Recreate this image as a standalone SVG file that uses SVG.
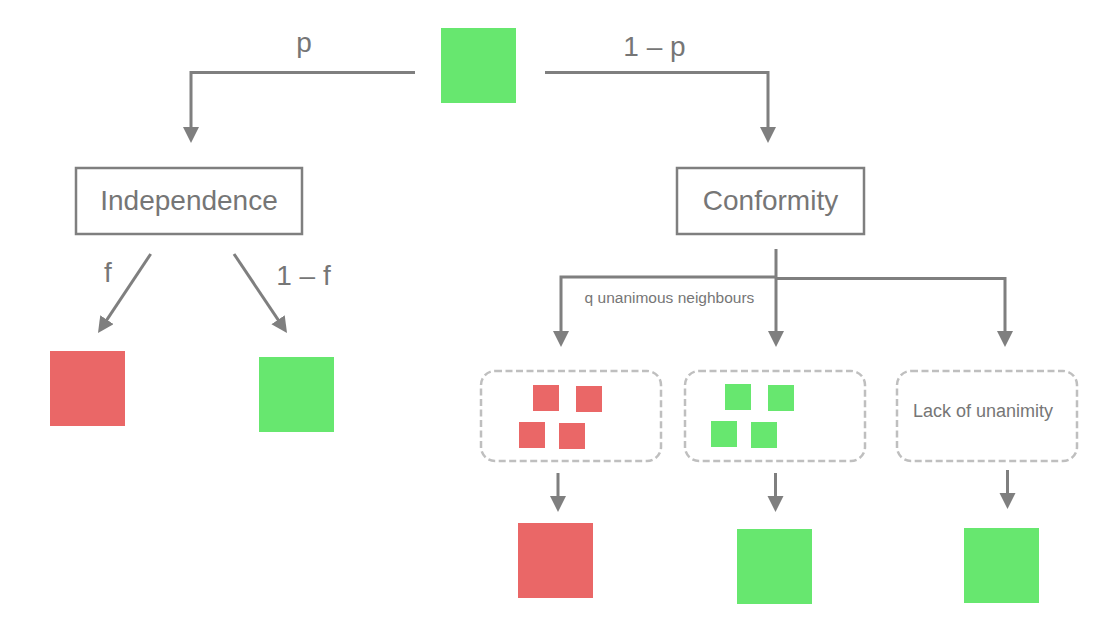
<svg xmlns="http://www.w3.org/2000/svg" width="1110" height="636" viewBox="0 0 1110 636">
<style>
.txt{font-family:"Liberation Sans",Arial,sans-serif;fill:#767676;text-anchor:middle}
.big{font-size:28px}
.small{font-size:15.5px}
.mid{font-size:18px}
.box{fill:#fff;stroke:#7f7f7f;stroke-width:2.5}
.dash{fill:none;stroke:#bfbfbf;stroke-width:2.5;stroke-dasharray:7 3.5}
.conn{fill:none;stroke:#7f7f7f;stroke-width:3;marker-end:url(#ah)}
.g{fill:#67e76f}
.r{fill:#ea6767}
</style>
<defs>
<marker id="ah" markerUnits="userSpaceOnUse" markerWidth="17" markerHeight="17" refX="2" refY="8" orient="auto" viewBox="0 0 17 17">
<path d="M0,0 L16,8 L0,16 z" fill="#7f7f7f"/>
</marker>
</defs>
<g id="connectors">
<path class="conn" d="M415,72.5 H191 V129"/>
<path class="conn" d="M545,72.5 H768 V129"/>
<path class="conn" d="M150.7,254 L105.8,321.3"/>
<path class="conn" d="M234,254 L279.2,321.4"/>
<path class="conn" d="M776,249 V333"/>
<path class="conn" d="M776,277 H561 V333"/>
<path class="conn" d="M776,278.5 H1005 V333"/>
<path class="conn" d="M558,473 V498"/>
<path class="conn" d="M775.5,473 V498"/>
<path class="conn" d="M1007.5,470 V495"/>
<text class="txt big" x="304" y="52">p</text>
<text class="txt big" x="654.5" y="56">1 – p</text>
<text class="txt big" x="108" y="282">f</text>
<text class="txt big" x="303.5" y="285">1 – f</text>
<text class="txt small" x="669.5" y="303">q unanimous neighbours</text>
</g>
<g id="start">
<rect class="g" x="441" y="28" width="75" height="75"/>
</g>
<g id="independence">
<rect class="box" x="76" y="168" width="226" height="66"/>
<text class="txt big" x="189" y="210">Independence</text>
</g>
<g id="conformity">
<rect class="box" x="677" y="168" width="187" height="66"/>
<text class="txt big" x="770.5" y="210">Conformity</text>
</g>
<g id="ind-red">
<rect class="r" x="50" y="351" width="75" height="75"/>
</g>
<g id="ind-green">
<rect class="g" x="259" y="357" width="75" height="75"/>
</g>
<g id="group-red">
<rect class="dash" x="481" y="371" width="180" height="90" rx="14"/>
<rect class="r" x="533" y="385" width="26" height="26"/>
<rect class="r" x="576" y="386" width="26" height="26"/>
<rect class="r" x="519" y="422" width="26" height="26"/>
<rect class="r" x="559" y="423" width="26" height="26"/>
</g>
<g id="group-green">
<rect class="dash" x="685" y="371" width="180" height="90" rx="14"/>
<rect class="g" x="725" y="384" width="26" height="26"/>
<rect class="g" x="768" y="385" width="26" height="26"/>
<rect class="g" x="711" y="421" width="26" height="26"/>
<rect class="g" x="751" y="422" width="26" height="26"/>
</g>
<g id="group-lack">
<rect class="dash" x="897" y="371" width="180" height="90" rx="14"/>
<text class="txt mid" x="983" y="417">Lack of unanimity</text>
</g>
<g id="out-red">
<rect class="r" x="518" y="523" width="75" height="75"/>
</g>
<g id="out-green">
<rect class="g" x="737" y="529" width="75" height="75"/>
</g>
<g id="out-lack">
<rect class="g" x="964" y="528" width="75" height="75"/>
</g>
</svg>
